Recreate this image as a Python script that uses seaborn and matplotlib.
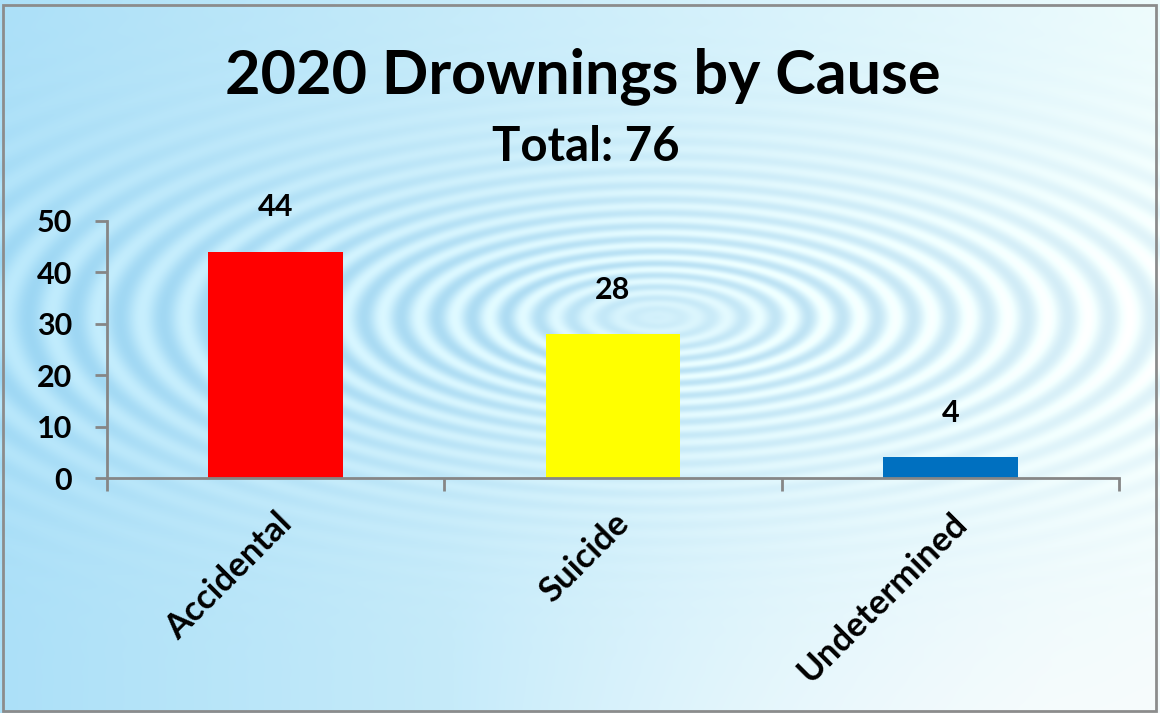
import numpy as np
import pandas as pd
import seaborn as sns
import matplotlib.pyplot as plt
from matplotlib.patches import Rectangle

# Chart data
causes = ['Accidental', 'Suicide', 'Undetermined']
counts = [44, 28, 4]
bar_colors = ['#FF0000', '#FFFF00', '#0070C0']
y_ticks = [0, 10, 20, 30, 40, 50]
title = '2020 Drownings by Cause'
subtitle = 'Total: 76'

df = pd.DataFrame({'cause': causes, 'count': counts})

sns.set_style('white')
plt.rcParams['font.family'] = ['Lato', 'DejaVu Sans']
plt.rcParams['text.color'] = 'black'
plt.rcParams['xtick.color'] = 'black'
plt.rcParams['ytick.color'] = 'black'

W, H = 1160, 713
fig = plt.figure(figsize=(W / 100, H / 100), dpi=100)

# Water ripple background (decoration only)
yy, xx = np.mgrid[0:H, 0:W].astype(float)
t = xx / W
left_col = np.array([172, 224, 248])
right_col = np.array([238, 252, 253])
img = left_col * (1 - t[..., None]) + right_col * t[..., None]
fade = np.clip((yy - 430) / 280, 0, 1) * np.clip((xx - 450) / 600, 0, 1)
img = img * (1 - 0.75 * fade[..., None]) + np.array([250, 252, 253]) * 0.75 * fade[..., None]
cx, cy = 657, 317
r = np.sqrt((xx - cx) ** 2 + ((yy - cy) * 2.8) ** 2)
phase = 2 * np.pi * (r / 30.0) / (1 + r / 2500)
wave = np.sin(phase)
amp = np.clip(r / 150, 0, 1) * np.exp(-r / 1100)
band = np.exp(-((yy - 320) / 150) ** 2)
shade = (wave * amp * band)[..., None]
img = img + shade * np.array([30, 18, 8])
img = np.clip(img, 0, 255) / 255
bg = fig.add_axes([0, 0, 1, 1], zorder=-1)
bg.imshow(img, aspect='auto', extent=[0, W, H, 0])
bg.add_patch(Rectangle((3, 5), W - 7, H - 7, fill=False, edgecolor='#8c8c8c', lw=2))
bg.set_xlim(0, W)
bg.set_ylim(H, 0)
bg.axis('off')

# Main bar axes
ax = fig.add_axes([107 / W, 1 - 478 / H, (1119 - 107) / W, (478 - 221) / H])
ax.patch.set_alpha(0)
sns.barplot(data=df, x='cause', y='count', hue='cause', palette=bar_colors,
            width=0.4, saturation=1, legend=False, linewidth=0, ax=ax)
ax.set_xlim(-0.5, 2.5)
ax.set_ylim(0, 50)
ax.set_yticks(y_ticks)
ax.set_xlabel('')
ax.set_ylabel('')

for p, v in zip(ax.patches, counts):
    ax.annotate(str(v), (p.get_x() + p.get_width() / 2, v),
                xytext=(0, 22), textcoords='offset points',
                ha='center', va='bottom', fontsize=22, fontweight='bold')

ax.set_xticks(np.arange(len(causes)))
ax.set_xticklabels(causes, rotation=45, ha='right', rotation_mode='anchor',
                   fontsize=25, fontweight='bold')
ax.set_xticks([-0.5, 0.5, 1.5, 2.5], minor=True)
ax.tick_params(axis='x', which='major', bottom=True, length=0, pad=21)
ax.tick_params(axis='x', which='minor', bottom=True, length=9, width=2,
               color='#868686', direction='out')
ax.tick_params(axis='y', left=True, length=9, width=2, color='#868686',
               direction='out', labelsize=22, pad=16)
for lbl in ax.get_yticklabels():
    lbl.set_fontweight('bold')

for s in ['top', 'right']:
    ax.spines[s].set_visible(False)
for s in ['left', 'bottom']:
    ax.spines[s].set_color('#868686')
    ax.spines[s].set_linewidth(2)

fig.text(583 / W, 1 - 76 / H, title, ha='center', va='center',
         fontsize=44, fontweight='bold')
fig.text(586 / W, 1 - 147 / H, subtitle, ha='center', va='center',
         fontsize=34, fontweight='bold')

fig.savefig('out.png', dpi=100)
